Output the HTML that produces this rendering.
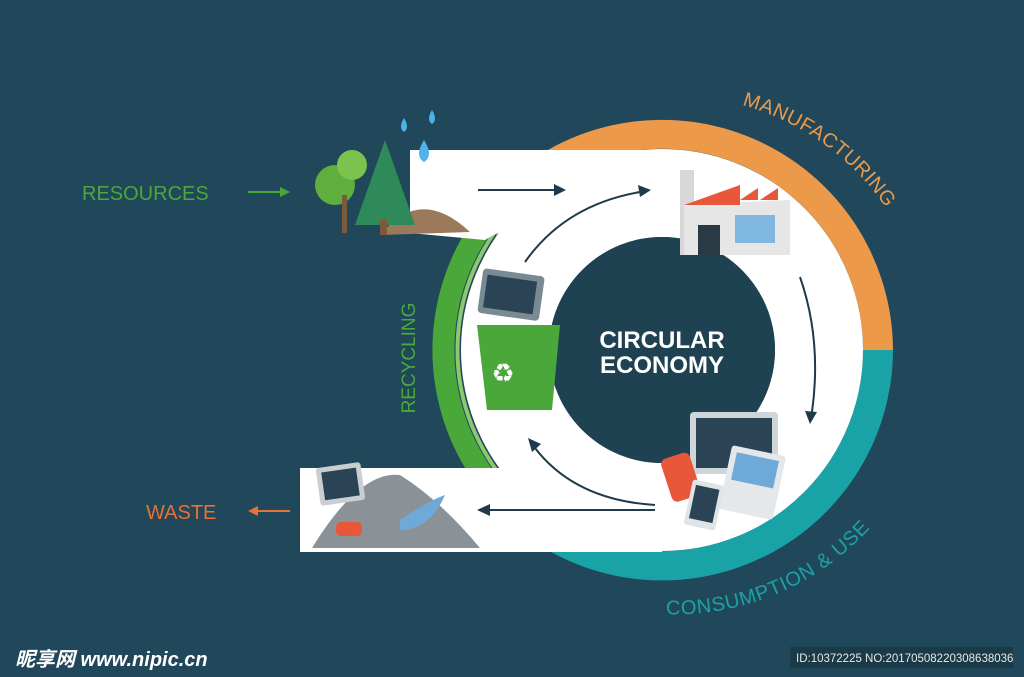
<!DOCTYPE html>
<html><head><meta charset="utf-8"><style>
html,body{margin:0;padding:0;background:#21475a;}
svg{display:block}
</style></head><body>
<svg width="1024" height="677" viewBox="0 0 1024 677" xmlns="http://www.w3.org/2000/svg" font-family="Liberation Sans, sans-serif">
<rect width="1024" height="677" fill="#21475a"/>
<!-- orange arc -->
<path d="M473 218 A231 231 0 0 1 893 350 L863 350 A201 201 0 0 0 497 235 Z" fill="#ec9a4a"/>
<!-- teal arc -->
<path d="M893 350 A231 231 0 0 1 530 539 L547 515 A201 201 0 0 0 863 350 Z" fill="#1aa3a6"/>
<!-- green arc (left only) -->
<path d="M537 171 A218 218 0 0 0 537 529" fill="none" stroke="#4aa83a" stroke-width="22"/>
<path d="M545 182 A205 205 0 0 0 545 518" fill="none" stroke="#8cc870" stroke-width="4"/>
<!-- white ring and bands -->
<circle cx="662" cy="350" r="157" fill="none" stroke="#ffffff" stroke-width="88"/>
<path d="M410 150 L662 150 L662 233 L497 233 L485 240 L410 233 Z" fill="#fff"/>
<rect x="300" y="468" width="362" height="84" fill="#fff"/>
<circle cx="662" cy="350" r="113" fill="#1f4253"/>
<!-- center text -->
<text x="662" y="348" text-anchor="middle" fill="#fff" font-size="24" font-weight="bold">CIRCULAR</text>
<text x="662" y="373" text-anchor="middle" fill="#fff" font-size="24" font-weight="bold">ECONOMY</text>
<!-- curved labels -->
<defs>
<path id="mf" d="M742 105 A256 256 0 0 1 925 300"/>
<path id="cu" d="M660 614 A264 264 0 0 0 915 460"/>
</defs>
<text fill="#ec9a4a" font-size="20" letter-spacing="0.5"><textPath href="#mf">MANUFACTURING</textPath></text>
<text fill="#1aa3a6" font-size="20" letter-spacing="0.8"><textPath href="#cu" startOffset="6">CONSUMPTION &amp; USE</textPath></text>
<text transform="translate(415,358) rotate(-90)" text-anchor="middle" fill="#4aa83a" font-size="19">RECYCLING</text>
<text x="82" y="200" fill="#4aa83a" font-size="20">RESOURCES</text>
<text x="146" y="519" fill="#e8703a" font-size="20">WASTE</text>
<g stroke-width="2" fill="none">
<path d="M248 192 L282 192" stroke="#4aa83a"/>
<path d="M256 511 L290 511" stroke="#e8703a"/>
<path d="M478 190 L556 190" stroke="#1f3a48"/>
<path d="M525 262 Q565 205 640 192" stroke="#1f3a48"/>
<path d="M800 277 Q822 340 812 412" stroke="#1f3a48"/>
<path d="M655 505 Q575 500 535 448" stroke="#1f3a48"/>
<path d="M655 510 L488 510" stroke="#1f3a48"/>
</g>
<polygon points="290,192 280,187 280,197" fill="#4aa83a"/>
<polygon points="248,511 258,506 258,516" fill="#e8703a"/>
<polygon points="566,190 554,184 554,196" fill="#1f3a48"/>
<polygon points="651,190 638,185 640,197" fill="#1f3a48"/>
<polygon points="810,424 805,411 817,412" fill="#1f3a48"/>
<polygon points="528,438 532,452 541,444" fill="#1f3a48"/>
<polygon points="477,510 490,504 490,516" fill="#1f3a48"/>
<!-- resources illustration -->
<path d="M380 235 Q420 185 470 232 Z" fill="#9a7a5a"/>
<circle cx="335" cy="185" r="20" fill="#5fae3e"/>
<circle cx="352" cy="165" r="15" fill="#7cc24f"/>
<rect x="342" y="195" width="5" height="38" fill="#7a5a3a"/>
<polygon points="385,140 355,225 415,225" fill="#2f8a5a"/>
<rect x="380" y="220" width="7" height="15" fill="#7a5a3a"/>
<path d="M404 118 q-6 10 0 14 q6 -4 0 -14z" fill="#4fb3e8"/>
<path d="M432 110 q-6 10 0 14 q6 -4 0 -14z" fill="#4fb3e8"/>
<path d="M424 140 q-10 16 0 22 q10 -6 0 -22z" fill="#4fb3e8"/>
<!-- factory -->
<rect x="680" y="170" width="14" height="85" fill="#d8d8d8"/>
<polygon points="684,205 790,200 790,255 684,255" fill="#e6e6e6"/>
<polygon points="684,205 740,185 740,205" fill="#e8573a"/>
<polygon points="740,200 758,188 758,200" fill="#e8573a"/>
<polygon points="760,200 778,188 778,200" fill="#e8573a"/>
<rect x="698" y="225" width="22" height="30" fill="#2a3a44"/>
<rect x="735" y="215" width="40" height="28" fill="#7fb7e0"/>
<!-- bin -->
<rect x="480" y="272" width="62" height="45" rx="4" fill="#7a8a92" transform="rotate(8 510 295)"/>
<rect x="485" y="278" width="50" height="33" fill="#2a4455" transform="rotate(8 510 295)"/>
<polygon points="477,325 560,325 552,410 487,410" fill="#4aa83a"/>
<text x="503" y="382" fill="#fff" font-size="26" text-anchor="middle">♻</text>
<!-- devices -->
<rect x="690" y="412" width="88" height="62" rx="4" fill="#cfd6da"/>
<rect x="696" y="418" width="76" height="50" fill="#2a4455"/>
<rect x="725" y="450" width="55" height="65" rx="3" fill="#e4e8ea" transform="rotate(12 752 482)"/>
<rect x="731" y="456" width="43" height="28" fill="#6fa9d8" transform="rotate(12 752 482)"/>
<rect x="666" y="455" width="30" height="45" rx="6" fill="#e8573a" transform="rotate(-18 680 478)"/>
<rect x="688" y="482" width="32" height="46" rx="3" fill="#dfe4e6" transform="rotate(12 704 505)"/>
<rect x="692" y="487" width="24" height="34" fill="#2a4455" transform="rotate(12 704 505)"/>
<!-- waste pile -->
<path d="M312 548 Q360 470 400 475 Q440 500 480 548 Z" fill="#8a9298"/>
<rect x="318" y="465" width="45" height="38" rx="3" fill="#c8ced2" transform="rotate(-8 340 484)"/>
<rect x="323" y="470" width="35" height="28" fill="#2a4455" transform="rotate(-8 340 484)"/>
<rect x="336" y="522" width="26" height="14" rx="5" fill="#e8573a"/>
<path d="M400 520 Q430 500 445 495 Q430 530 400 530 Z" fill="#6fa9d8"/>
<!-- watermark -->
<text x="15" y="666" fill="#fff" font-size="20" font-weight="bold" font-style="italic" font-family="Liberation Sans, Noto Sans CJK SC, sans-serif">昵享网 www.nipic.cn</text>
<rect x="790" y="647" width="223" height="21" fill="#1a3a47"/>
<text x="796" y="662" fill="#e8e8e8" font-size="11.5">ID:10372225 NO:20170508220308638036</text>
</svg>
</body></html>
